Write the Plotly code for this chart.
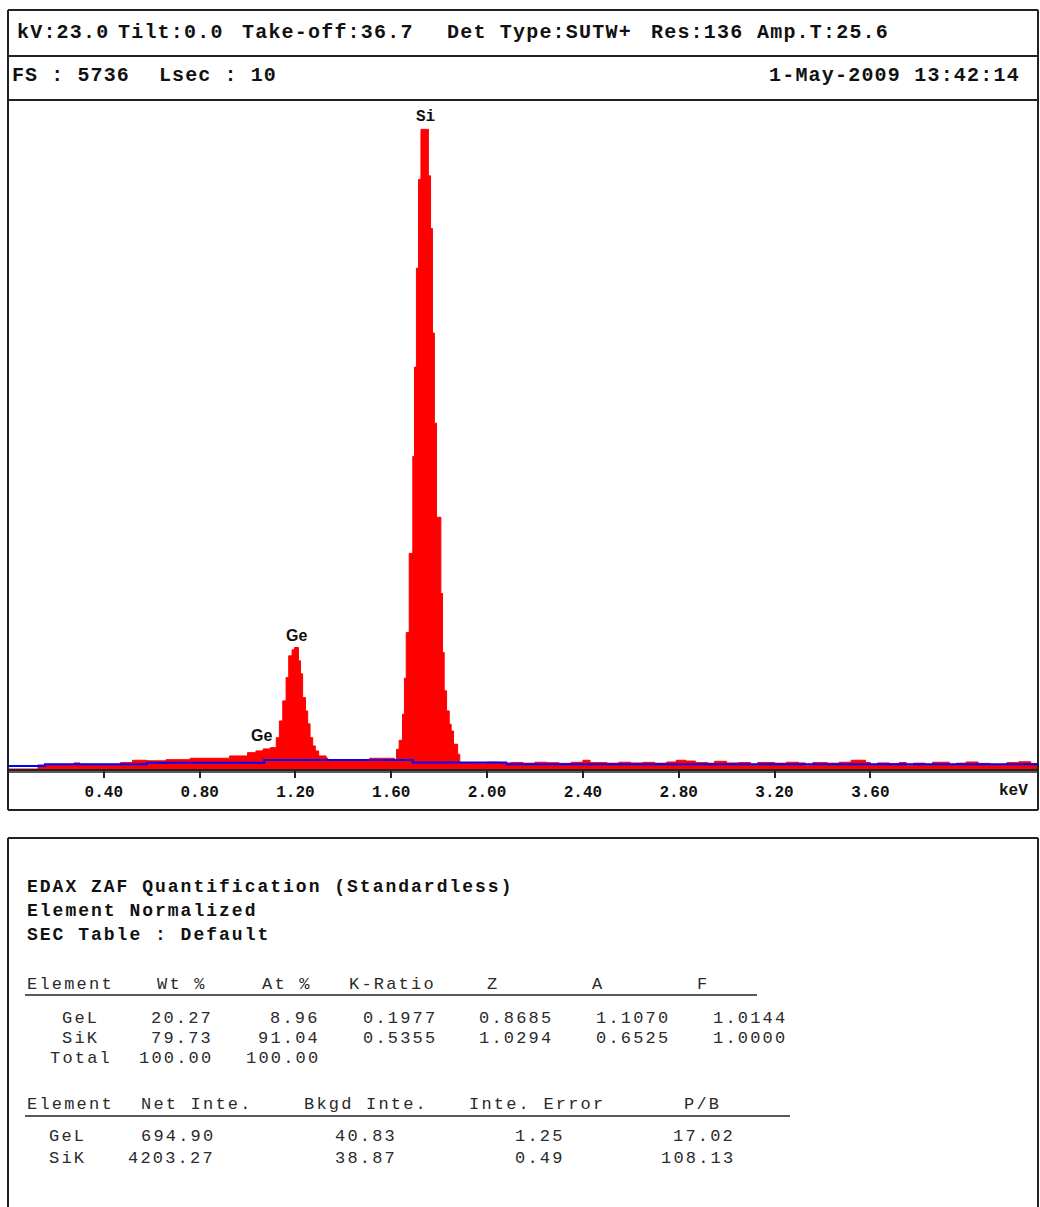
import plotly.graph_objects as go

W, H = 1040, 1207

# ---------------- spectrum data ----------------
# step starts in keV and counts (red histogram)
spec_kev = [0.000, 0.125, 0.160, 0.275, 0.300, 0.470, 0.520, 0.580, 0.660, 0.760, 0.925,
            1.000, 1.035, 1.065, 1.095,
            1.120, 1.133, 1.147, 1.161, 1.172, 1.186, 1.196, 1.2125, 1.221, 1.230, 1.242,
            1.251, 1.261, 1.272, 1.283, 1.297, 1.328, 1.335, 1.510,
            1.6125, 1.622, 1.633, 1.647, 1.655, 1.6625, 1.675, 1.690, 1.697, 1.705, 1.714,
            1.724, 1.755, 1.764, 1.772, 1.780, 1.789, 1.807, 1.814, 1.821, 1.831, 1.842,
            1.850, 1.860, 1.877, 1.886, 1.904,
            1.95, 2.00, 2.05, 2.10, 2.15, 2.20, 2.25, 2.30, 2.35, 2.40, 2.43, 2.50, 2.55,
            2.60, 2.65, 2.70, 2.75, 2.79, 2.83, 2.87, 2.92, 2.95, 3.00, 3.05, 3.10, 3.13,
            3.20, 3.25, 3.30, 3.33, 3.36, 3.42, 3.47, 3.52, 3.58, 3.60, 3.63, 3.68, 3.72,
            3.75, 3.78, 3.83, 3.86, 3.93, 3.96, 4.00, 4.05, 4.10, 4.17, 4.22, 4.27, 4.30]
spec_counts = [0, 35, 40, 52, 40, 55, 75, 70, 80, 92, 112,
               140, 155, 172, 183,
               269, 412, 584, 784, 970, 1022, 1042, 928, 816, 612, 498,
               387, 269, 198, 155, 112, 94, 75, 92,
               83, 169, 246, 470, 779, 1170, 1849, 2679, 3446, 4294, 5055,
               5484, 5086, 4634, 3738, 2965, 2158, 1505, 999, 670, 498, 384,
               326, 212, 126, 54, 55,
               50, 58, 52, 56, 50, 58, 54, 48, 57, 75, 55, 50, 58,
               52, 57, 50, 60, 75, 68, 55, 50, 66, 52, 55, 30, 56,
               50, 58, 52, 28, 55, 50, 58, 75, 55, 30, 52, 45, 55,
               28, 50, 30, 58, 30, 50, 60, 48, 30, 55, 62, 45, 45]

# background fit (blue)
bkg_kev = [0.0, 0.154, 0.58, 1.07, 1.69, 2.08, 4.30]
bkg_counts = [26, 40, 54, 78, 56, 40, 40]

full_scale = 5736
kev_max = 4.30

tick_vals = [0.40, 0.80, 1.20, 1.60, 2.00, 2.40, 2.80, 3.20, 3.60]
tick_text = ["0.40", "0.80", "1.20", "1.60", "2.00", "2.40", "2.80", "3.20", "3.60"]

peak_labels = ["Si", "Ge", "Ge"]
peak_kev = [1.745, 1.205, 1.058]
peak_counts = [5484, 1042, 190]

# ---------------- header text ----------------
header1 = ["kV:23.0", "Tilt:0.0", "Take-off:36.7", "Det Type:SUTW+", "Res:136", "Amp.T:25.6"]
header1_x = [15, 116, 240, 445, 649, 755]
header2_left = ["FS : 5736", "Lsec : 10"]
header2_left_x = [10, 157]
header2_date = "1-May-2009 13:42:14"

# ---------------- quantification tables ----------------
title_lines = ["EDAX ZAF Quantification (Standardless)", "Element Normalized", "SEC Table : Default"]

t1_headers = ["Wt %", "At %", "K-Ratio", "Z", "A", "F"]
t1_elements = ["GeL", "SiK"]
t1_wt = ["20.27", "79.73"]
t1_at = ["8.96", "91.04"]
t1_kratio = ["0.1977", "0.5355"]
t1_z = ["0.8685", "1.0294"]
t1_a = ["1.1070", "0.6525"]
t1_f = ["1.0144", "1.0000"]
t1_total = ["100.00", "100.00"]

t2_headers = ["Net Inte.", "Bkgd Inte.", "Inte. Error", "P/B"]
t2_elements = ["GeL", "SiK"]
t2_net = ["694.90", "4203.27"]
t2_bkgd = ["40.83", "38.87"]
t2_err = ["1.25", "0.49"]
t2_pb = ["17.02", "108.13"]


def px(x):
    return x / W


def py(y):
    return 1 - y / H


fig = go.Figure()

fig.add_trace(go.Scatter(
    x=spec_kev, y=spec_counts, mode="lines", line=dict(shape="hv", color="#ff0000", width=1),
    fill="tozeroy", fillcolor="#ff0000", hoverinfo="skip", showlegend=False))
fig.add_trace(go.Scatter(
    x=bkg_kev, y=bkg_counts, mode="lines", line=dict(shape="hv", color="#0000ff", width=2),
    hoverinfo="skip", showlegend=False))

MONO = "Liberation Mono"
INK = "#111111"
INK2 = "#2a2a2a"

annotations = []


def txt(s, x, y, size, bold=False, anchor="left", ls=0.0, family=MONO):
    text = f'<span style="letter-spacing:{ls}px">{s}</span>' if ls else s
    annotations.append(dict(
        text=text, x=px(x), y=py(y), xref="paper", yref="paper", xanchor=anchor,
        yanchor="middle", showarrow=False,
        font=dict(family=family, size=size, color=INK if bold else INK2,
                  weight="bold" if bold else "normal")))


# header rows
for s, x in zip(header1, header1_x):
    txt(s, x, 33, 20, bold=True, ls=1.2)
for s, x in zip(header2_left, header2_left_x):
    txt(s, x, 76, 20, bold=True, ls=1.1)
txt(header2_date, 1022, 76, 20, bold=True, anchor="right", ls=1.2)

# keV unit
txt("keV", 1013, 791, 16, bold=True, anchor="center")

# peak labels (data coords)
for lab, kx, cy in zip(peak_labels, peak_kev, peak_counts):
    fam = MONO if lab == "Si" else "Liberation Sans"
    annotations.append(dict(
        text=lab, x=kx, y=cy, xref="x", yref="y", xanchor="center", yanchor="bottom",
        showarrow=False, yshift=1,
        font=dict(family=fam, size=16, color=INK, weight="bold")))

# table titles
for i, s in enumerate(title_lines):
    txt(s, 25, 887 + 24 * i, 18, bold=True, ls=2.0)

# table 1
REG = 17
LS = 2.2
txt("Element", 25, 984, REG, ls=LS)
t1_hx = [182, 287, 392, 493, 598, 703]
for s, x in zip(t1_headers, t1_hx):
    txt(s, x, 984, REG, anchor="center", ls=LS)
t1_rows_y = [1018, 1038]
t1_cols = [t1_wt, t1_at, t1_kratio, t1_z, t1_a, t1_f]
t1_rx = [215, 322, 439, 555, 672, 789]
for r, y in enumerate(t1_rows_y):
    txt(t1_elements[r], 60, y, REG, ls=LS)
    for col, rx in zip(t1_cols, t1_rx):
        txt(col[r], rx, y, REG, anchor="right", ls=LS)
txt("Total", 48, 1058, REG, ls=LS)
for s, rx in zip(t1_total, t1_rx[:2]):
    txt(s, rx, 1058, REG, anchor="right", ls=LS)

# table 2
txt("Element", 25, 1104, REG, ls=LS)
t2_hx = [197, 366, 537, 702]
for s, x in zip(t2_headers, t2_hx):
    txt(s, x, 1104, REG, anchor="center", ls=LS)
t2_rows_y = [1136, 1158]
t2_cols = [t2_net, t2_bkgd, t2_err, t2_pb]
t2_rx = [217, 399, 567, 737]
for r, y in enumerate(t2_rows_y):
    txt(t2_elements[r], 47, y, REG, ls=LS)
    for col, rx in zip(t2_cols, t2_rx):
        txt(col[r], rx, y, REG, anchor="right", ls=LS)

# frame lines
LC = "#222222"
shapes = []


def hline(x0, x1, y, w=2):
    shapes.append(dict(type="line", xref="paper", yref="paper", x0=px(x0), x1=px(x1),
                       y0=py(y), y1=py(y), line=dict(color=LC, width=w)))


def vline(x, y0, y1, w=2):
    shapes.append(dict(type="line", xref="paper", yref="paper", x0=px(x), x1=px(x),
                       y0=py(y0), y1=py(y1), line=dict(color=LC, width=w)))


hline(8, 1038, 10)
hline(8, 1038, 56)
hline(8, 1038, 100)
hline(8, 1038, 810)
vline(8, 10, 810)
vline(1038, 10, 810)
hline(8, 1038, 772, 1.3)   # second line of the double axis
hline(8, 1038, 838)
vline(8, 838, 1207)
vline(1038, 838, 1207)
hline(25, 757, 995, 1.6)
hline(25, 790, 1116, 1.6)

fig.update_layout(
    width=W, height=H, margin=dict(l=0, r=0, t=0, b=0),
    paper_bgcolor="white", plot_bgcolor="white",
    showlegend=False, annotations=annotations, shapes=shapes,
    xaxis=dict(domain=[px(8), px(1038)], range=[0, kev_max], showgrid=False, zeroline=False,
               showline=True, linecolor=LC, linewidth=2, ticks="outside", ticklen=7,
               tickwidth=2, tickcolor=LC, tickvals=tick_vals, ticktext=tick_text,
               tickfont=dict(family=MONO, size=16, color=INK, weight="bold"),
               ticklabelstandoff=0, fixedrange=True),
    yaxis=dict(domain=[py(769), py(100)], range=[0, full_scale], showgrid=False,
               zeroline=False, showline=False, showticklabels=False, ticks="", fixedrange=True),
)

fig.write_html("out.html")
